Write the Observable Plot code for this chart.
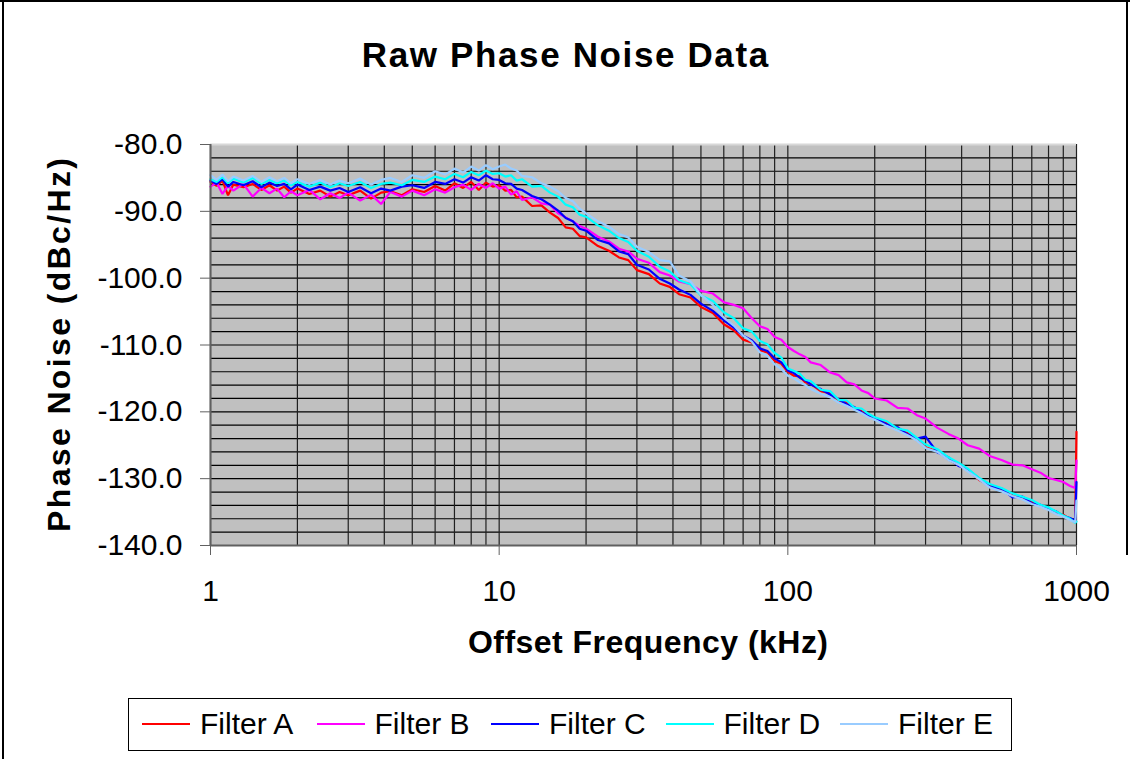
<!DOCTYPE html>
<html>
<head>
<meta charset="utf-8">
<script src="https://cdn.jsdelivr.net/npm/d3@7"></script>
<script src="https://cdn.jsdelivr.net/npm/@observablehq/plot@0.6"></script>
<style>
  html, body { margin: 0; padding: 0; background: #fff; }
  body { width: 1130px; height: 759px; overflow: hidden; position: relative; font-family: "Liberation Sans", Arial, sans-serif; }
  #title { position: absolute; left: 0; top: 37px; width: 1130px; text-align: center; font-weight: bold; font-size: 35px; line-height: 1; color: #000; }
  #title span { white-space: nowrap; }
  #chart { position: absolute; left: 0; top: 100px; }
  #legend { position: absolute; left: 128px; top: 698px; width: 884px; height: 53px; border: 1.5px solid #000; box-sizing: border-box; }
  .item { position: absolute; top: 0; height: 50px; display: flex; align-items: center; }
  .swatch { width: 48px; height: 2px; margin-right: 10px; }
  .lab { font-size: 30px; line-height: 1; color: #000; white-space: nowrap; }
  .border { position: absolute; background: #000; }
</style>
</head>
<body>
<div id="title"><span>Raw Phase Noise Data</span></div>
<div id="chart"></div>
<div id="legend"></div>
<div class="border" style="left:0;top:0;width:1130px;height:2px;"></div>
<div class="border" style="left:2px;top:0;width:2px;height:759px;"></div>
<div class="border" style="left:1126px;top:0;width:2px;height:555px;"></div>
<script>
// ---- data ----
const freqKHz = [1, 1.05, 1.1, 1.15, 1.2, 1.3, 1.4, 1.5, 1.6, 1.7, 1.8, 1.9, 2, 2.2, 2.4, 2.6, 2.8, 3, 3.3, 3.6, 3.9, 4.2, 4.6, 5, 5.5, 6, 6.5, 7, 7.5, 8, 8.5, 9, 9.5,
  10, 10.5, 11, 11.5, 12, 13, 14, 15, 16, 17, 18, 19, 20, 22, 24, 26, 28, 30, 33, 36, 39, 42, 46, 50, 55, 60, 65, 70, 75, 80, 85, 90, 95,
  100, 105, 110, 115, 120, 130, 140, 150, 160, 170, 180, 190, 200, 220, 240, 260, 280, 300, 330, 360, 390, 420, 460, 500, 550, 600, 650, 700, 750, 800, 850, 900, 950, 990, 1000];

const filterA = [-85.6, -86.2, -85.4, -87.6, -86.0, -86.4, -85.9, -86.8, -86.1, -86.9, -86.3, -87.2, -86.6, -87.4, -86.9, -87.8, -87.1, -87.6, -86.9, -88.1, -87.2, -87.0, -87.6, -86.7, -87.1, -86.2, -86.9, -85.8, -86.5, -85.6, -86.8, -85.7, -86.3,
  -86.1, -86.9, -86.8, -87.9, -87.8, -89.2, -89.1, -90.2, -91.0, -92.4, -92.6, -93.7, -93.9, -95.2, -95.9, -96.9, -97.3, -98.8, -99.4, -100.8, -101.3, -102.4, -102.9, -104.3, -105.2, -106.9, -107.8, -109.2, -109.6, -110.8, -111.1, -112.4, -112.8,
  -114.0, -114.6, -114.7, -115.6, -115.8, -116.9, -117.2, -118.4, -118.6, -119.6, -119.9, -120.4, -121.0, -121.7, -122.6, -123.2, -124.2, -125.3, -125.9, -127.1, -128.0, -128.7, -130.2, -131.0, -131.7, -132.6, -132.9, -133.5, -134.1, -134.4, -135.1, -135.4, -136.1, -136.3, -123.0];

const filterB = [-86.3, -85.7, -87.4, -86.2, -86.9, -85.9, -87.8, -86.5, -87.3, -86.6, -87.9, -87.0, -87.6, -86.8, -88.2, -87.3, -88.0, -87.2, -88.4, -87.5, -88.9, -87.1, -87.8, -86.9, -87.6, -86.7, -87.2, -86.4, -86.0, -86.8, -85.9, -86.5, -85.8,
  -86.6, -86.3, -87.5, -87.0, -88.3, -87.9, -88.8, -89.0, -90.3, -90.9, -91.5, -92.2, -92.6, -93.8, -94.5, -95.6, -96.0, -97.1, -97.7, -99.1, -99.6, -100.5, -100.9, -101.9, -102.3, -103.6, -104.0, -104.5, -106.0, -107.2, -107.6, -108.8, -109.2,
  -110.3, -110.9, -111.4, -111.8, -112.6, -113.0, -114.1, -114.5, -115.6, -115.9, -116.8, -117.2, -118.0, -118.3, -119.4, -119.5, -120.5, -121.0, -122.4, -123.3, -124.0, -125.0, -125.5, -126.6, -127.2, -127.9, -128.0, -128.6, -129.1, -129.9, -130.2, -130.5, -131.1, -131.4, -127.3];

const filterC = [-85.4, -85.9, -85.2, -86.3, -85.6, -86.1, -85.5, -86.4, -85.7, -86.2, -85.9, -86.7, -86.0, -86.8, -86.3, -86.9, -86.5, -87.1, -86.4, -87.3, -86.6, -86.9, -86.3, -86.1, -86.5, -85.6, -85.9, -85.2, -85.7, -84.9, -85.4, -84.6, -85.2,
  -85.3, -85.8, -85.9, -86.6, -86.8, -87.7, -88.2, -89.0, -89.9, -91.0, -91.5, -92.6, -92.9, -94.3, -94.8, -96.0, -96.4, -98.0, -98.7, -100.1, -100.8, -101.7, -102.5, -103.8, -104.9, -106.3, -107.4, -108.6, -109.3, -110.5, -110.9, -112.0, -112.6,
  -113.8, -114.2, -114.9, -115.3, -115.9, -116.6, -117.4, -118.1, -118.9, -119.3, -120.1, -120.5, -120.9, -121.9, -122.3, -123.4, -124.0, -123.7, -126.1, -126.8, -128.1, -128.6, -130.0, -131.2, -131.5, -132.8, -132.7, -133.7, -133.9, -134.6, -134.9, -135.6, -135.9, -136.3, -130.5];

const filterD = [-85.2, -85.6, -84.9, -85.8, -85.1, -85.7, -85.0, -85.9, -85.3, -85.8, -85.4, -86.1, -85.6, -86.3, -85.7, -86.4, -85.8, -86.2, -85.6, -86.5, -85.9, -85.7, -86.1, -85.3, -85.6, -84.8, -85.2, -84.4, -84.9, -84.1, -84.6, -83.9, -84.4,
  -84.3, -84.8, -84.6, -85.4, -85.2, -86.3, -86.2, -87.2, -87.8, -89.0, -89.4, -90.5, -90.8, -92.1, -92.9, -94.0, -94.6, -95.9, -96.8, -98.3, -99.0, -100.3, -100.9, -102.6, -103.4, -105.1, -106.0, -107.5, -108.0, -109.4, -109.9, -111.2, -111.9,
  -113.5, -113.9, -114.3, -115.2, -115.4, -116.7, -116.9, -118.2, -118.3, -119.4, -119.5, -120.3, -120.8, -121.4, -122.5, -122.8, -123.9, -124.9, -125.6, -126.8, -127.6, -128.5, -129.9, -130.8, -131.4, -132.2, -132.7, -133.2, -133.9, -134.3, -134.9, -135.5, -136.0, -136.6, -136.4];

const filterE = [-84.6, -85.3, -84.5, -85.5, -84.8, -85.4, -84.7, -85.6, -84.9, -85.5, -85.0, -85.8, -85.2, -85.9, -85.3, -86.0, -85.4, -85.8, -85.1, -86.0, -85.3, -85.0, -85.6, -84.6, -85.0, -84.0, -84.5, -83.6, -84.2, -83.3, -83.9, -83.1, -83.7,
  -83.3, -83.0, -83.6, -83.9, -84.7, -84.9, -85.8, -86.3, -87.0, -88.0, -88.5, -89.6, -90.3, -91.5, -92.3, -93.4, -93.9, -95.3, -96.1, -97.3, -97.5, -99.6, -100.5, -102.5, -104.0, -105.9, -107.1, -108.6, -109.5, -111.1, -111.6, -112.9, -113.6,
  -114.6, -115.0, -115.6, -116.0, -116.6, -117.3, -117.8, -118.6, -119.1, -119.7, -120.2, -120.8, -121.2, -122.1, -122.8, -123.5, -124.3, -125.4, -126.0, -127.2, -127.9, -128.9, -130.1, -131.3, -131.9, -132.6, -133.1, -133.8, -134.2, -134.7, -135.3, -135.7, -136.2, -136.5, -133.3];

const seriesNames = ["Filter A", "Filter B", "Filter C", "Filter D", "Filter E"];
const seriesColors = ["#FF0000", "#FF00FF", "#0000FF", "#00FFFF", "#99CCFF"];
const xTickValues = [1, 10, 100, 1000];
const yTickValues = [-140, -130, -120, -110, -100, -90, -80];
const xGridValues = [1, 2, 3, 4, 5, 6, 7, 8, 9, 10, 20, 30, 40, 50, 60, 70, 80, 90, 100, 200, 300, 400, 500, 600, 700, 800, 900, 1000];
const yGridValues = [-138, -136, -134, -132, -130, -128, -126, -124, -122, -120, -118, -116, -114, -112, -110, -108, -106, -104, -102, -100, -98, -96, -94, -92, -90, -88, -86, -84, -82];
const titleText = "Raw Phase Noise Data";
const xTitle = "Offset Frequency (kHz)";
const yTitle = "Phase Noise (dBc/Hz)";

// ---- table ----
const seriesValues = [filterA, filterB, filterC, filterD, filterE];
const rows = seriesValues.flatMap((vals, si) => vals.map((v, i) => ({f: freqKHz[i], v, s: seriesNames[si]})));

const chart = Plot.plot({
  width: 1130,
  height: 590,
  marginTop: 44,
  marginBottom: 145,
  marginLeft: 210,
  marginRight: 54,
  style: {fontFamily: '"Liberation Sans", Arial, sans-serif', fontSize: "30px", color: "#000", background: "transparent", overflow: "visible"},
  x: {type: "log", domain: [1, 1000], label: null},
  y: {domain: [-140, -80], label: null},
  color: {domain: seriesNames, range: seriesColors},
  marks: [
    Plot.frame({fill: "#C0C0C0", stroke: null}),
    Plot.gridY(yGridValues, {stroke: "#000", strokeOpacity: 1, strokeWidth: 1.2}),
    Plot.gridX(xGridValues, {stroke: "#202020", strokeOpacity: 1, strokeWidth: 1.2}),
    Plot.ruleY([-80], {stroke: "#d8d8d8", strokeWidth: 2}),
    Plot.line(rows, {x: "f", y: "v", z: "s", stroke: "s", strokeWidth: 2.2, strokeLinejoin: "miter"}),
    Plot.ruleX([1], {stroke: "#606060", strokeWidth: 2}),
    Plot.ruleY([-140], {stroke: "#606060", strokeWidth: 2}),
    Plot.axisX(xTickValues, {tickSize: 10, tickPadding: 24, tickFormat: d => String(d), stroke: "#606060", fill: "#000", label: null}),
    Plot.axisY(yTickValues, {tickSize: 10, tickPadding: 18, tickFormat: d => d.toFixed(1), stroke: "#606060", fill: "#000", label: null})
  ]
});
document.getElementById("chart").appendChild(chart);

// axis titles
const svg = d3.select(chart);
svg.append("text")
  .attr("x", 648).attr("y", 553)
  .attr("text-anchor", "middle")
  .attr("font-weight", "bold").attr("font-size", 32)
  .attr("textLength", 360).attr("lengthAdjust", "spacing")
  .attr("fill", "#000")
  .text(xTitle);
svg.append("text")
  .attr("transform", "translate(70,245) rotate(-90)")
  .attr("text-anchor", "middle")
  .attr("font-weight", "bold").attr("font-size", 32)
  .attr("textLength", 374).attr("lengthAdjust", "spacing")
  .attr("fill", "#000")
  .text(yTitle);

// title: adjust letter spacing to match reference width
const tspan = document.querySelector("#title span");
tspan.textContent = titleText;
const natural = tspan.getBoundingClientRect().width;
const ls = (408 - natural) / titleText.length;
tspan.style.letterSpacing = ls + "px";
tspan.style.paddingLeft = ls + "px";

// legend
const legend = document.getElementById("legend");
seriesNames.forEach((name, i) => {
  const item = document.createElement("div");
  item.className = "item";
  item.style.left = (13 + i * 174.5) + "px";
  const sw = document.createElement("div");
  sw.className = "swatch";
  sw.style.background = seriesColors[i];
  const lab = document.createElement("span");
  lab.className = "lab";
  lab.textContent = name;
  item.appendChild(sw);
  item.appendChild(lab);
  legend.appendChild(item);
});
</script>
</body>
</html>
